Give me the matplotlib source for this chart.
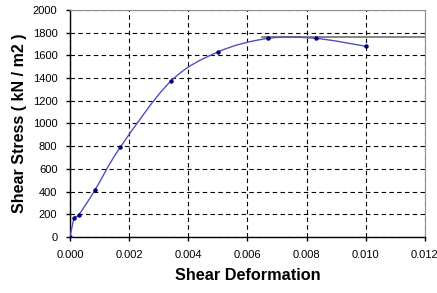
import numpy as np
import matplotlib
matplotlib.use("Agg")
import matplotlib.pyplot as plt
from matplotlib.path import Path
from matplotlib.patches import PathPatch

# Datos
deformation = [0.0, 0.00015, 0.0003, 0.00085, 0.0017, 0.0034, 0.005, 0.0067, 0.0083, 0.010]
stress = [0, 170, 195, 415, 790, 1370, 1630, 1750, 1750, 1680]
peak_stress = 1760
peak_from = 0.0065

x_ticks = [0.000, 0.002, 0.004, 0.006, 0.008, 0.010, 0.012]
y_ticks = list(range(0, 2001, 200))

plt.rcParams['font.family'] = ['Liberation Sans', 'DejaVu Sans']

fig = plt.figure(figsize=(4.37, 2.93), dpi=100)
ax = fig.add_axes([0.16, 0.191, 0.8125, 0.775])

# curva suavizada (bezier, como excel)
x = np.array(deformation)
y = np.array(stress)
verts = [(x[0], y[0])]
codes = [Path.MOVETO]
n = len(x)
for i in range(n - 1):
    p0 = np.array([x[max(i - 1, 0)], y[max(i - 1, 0)]])
    p1 = np.array([x[i], y[i]])
    p2 = np.array([x[i + 1], y[i + 1]])
    p3 = np.array([x[min(i + 2, n - 1)], y[min(i + 2, n - 1)]])
    c1 = p1 + (p2 - p0) / 6
    c2 = p2 - (p3 - p1) / 6
    verts += [tuple(c1), tuple(c2), tuple(p2)]
    codes += [Path.CURVE4] * 3
ax.add_patch(PathPatch(Path(verts, codes), facecolor='none', edgecolor='#5050c0', lw=1.0, zorder=3))
ax.plot(deformation, stress, ls='none', marker='o', ms=2.2, color='#000080', zorder=4)

ax.plot([peak_from, 0.012], [peak_stress, peak_stress], color='#707070', lw=1.2, zorder=2)

ax.set_xlim(0, 0.012)
ax.set_ylim(0, 2000)
ax.set_xticks(x_ticks)
ax.set_yticks(y_ticks)
ax.set_xticklabels([f"{v:.3f}" for v in x_ticks], fontsize=8)
ax.set_yticklabels([str(v) for v in y_ticks], fontsize=8)
ax.tick_params(direction='out', length=3, width=1, pad=6)
ax.grid(True, color='black', ls=(0, (4, 3)), lw=0.8)
ax.set_axisbelow(True)

for s in ['top', 'right']:
    ax.spines[s].set_color('#909090')
for s in ['left', 'bottom']:
    ax.spines[s].set_color('black')
    ax.spines[s].set_linewidth(1.0)

ax.set_xlabel("Shear Deformation", fontsize=11.7, fontweight='bold', labelpad=6)
ax.set_ylabel("Shear Stress ( kN / m2 )", fontsize=11.5, fontweight='bold', labelpad=4)

fig.savefig("out.png", dpi=100)
